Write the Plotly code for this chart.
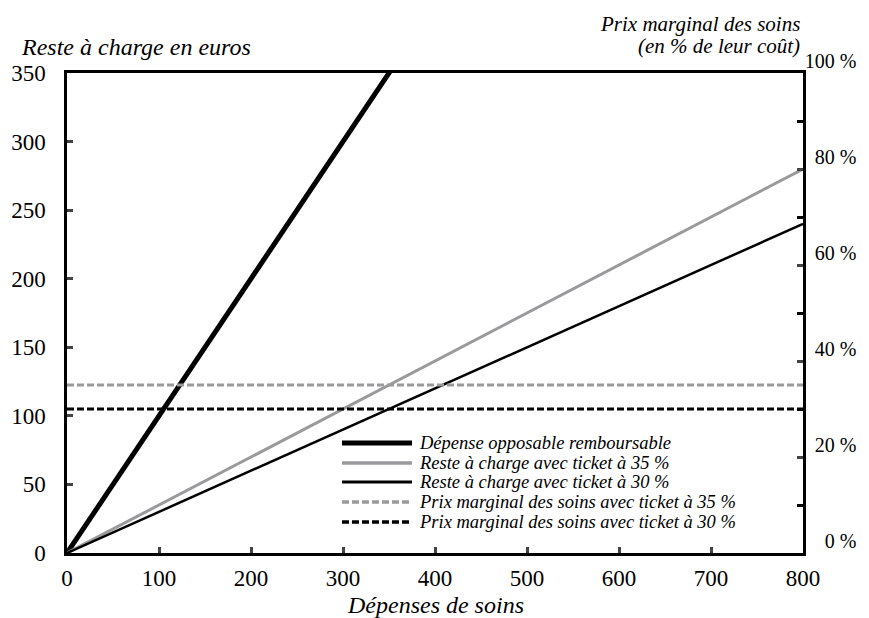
import plotly.graph_objects as go

# Data
depenses = [0, 100, 200, 300, 400, 500, 600, 700, 800]
depense_opposable = [0, 100, 200, 300, 400, 500, 600, 700, 800]
reste_35 = [0, 35, 70, 105, 140, 175, 210, 245, 280]
reste_30 = [0, 30, 60, 90, 120, 150, 180, 210, 240]
prix_35 = [35, 35, 35, 35, 35, 35, 35, 35, 35]
prix_30 = [30, 30, 30, 30, 30, 30, 30, 30, 30]

names = [
    "Dépense opposable remboursable",
    "Reste à charge avec ticket à 35 %",
    "Reste à charge avec ticket à 30 %",
    "Prix marginal des soins avec ticket à 35 %",
    "Prix marginal des soins avec ticket à 30 %",
]
x_ticks = [0, 100, 200, 300, 400, 500, 600, 700, 800]
y_ticks = [0, 50, 100, 150, 200, 250, 300, 350]
y2_ticks = [0, 20, 40, 60, 80, 100]
y2_labels = ["0 %", "20 %", "40 %", "60 %", "80 %", "100 %"]

FONT = "Liberation Serif, Times New Roman, serif"
GRAY = "#9a9a9c"
PAD = "\u2002"  # en space = one digit width in Times-like fonts

# right-align the right-axis labels (as in the reference)
y2_text = [PAD * (5 - len(t)) + t for t in y2_labels]

styles = [
    dict(color="black", width=5),
    dict(color=GRAY, width=3),
    dict(color="black", width=2.5),
    dict(color=GRAY, width=3, dash="7px,3px"),
    dict(color="black", width=3, dash="7px,3px"),
]

fig = go.Figure()
fig.add_trace(go.Scatter(x=depenses, y=prix_35, yaxis="y2", mode="lines", name=names[3],
                         line=styles[3], showlegend=False))
fig.add_trace(go.Scatter(x=depenses, y=prix_30, yaxis="y2", mode="lines", name=names[4],
                         line=styles[4], showlegend=False))
fig.add_trace(go.Scatter(x=depenses, y=depense_opposable, mode="lines", name=names[0],
                         line=styles[0], showlegend=False))
fig.add_trace(go.Scatter(x=depenses, y=reste_35, mode="lines", name=names[1],
                         line=styles[1], showlegend=False))
fig.add_trace(go.Scatter(x=depenses, y=reste_30, mode="lines", name=names[2],
                         line=styles[2], showlegend=False))

fig.update_layout(
    width=861, height=610,
    margin=dict(l=59, r=66, t=65, b=65),
    paper_bgcolor="white", plot_bgcolor="white",
    font=dict(family=FONT, size=23, color="black"),
    showlegend=False,
    xaxis=dict(
        range=[0, 800], tickvals=x_ticks, ticks="inside", ticklen=6, tickwidth=2.5,
        showline=True, linewidth=2.5, linecolor="black", mirror=True,
        showgrid=False, zeroline=False, automargin=False, ticklabelstandoff=3,
    ),
    yaxis=dict(
        range=[0, 350], tickvals=y_ticks, ticks="inside", ticklen=6, tickwidth=2.5,
        showline=True, linewidth=2.5, linecolor="black", mirror=True,
        showgrid=False, zeroline=False, ticklabelstandoff=14, automargin=False,
    ),
    yaxis2=dict(
        overlaying="y", side="right", range=[0, 100],
        tickvals=y2_ticks, ticktext=y2_text, ticks="inside", ticklen=6, tickwidth=2.5,
        tickfont=dict(family=FONT, size=20),
        minor=dict(dtick=10, ticks="inside", ticklen=6, tickwidth=2.5, tickcolor="black"),
        ticklabelshift=-12, ticklabelstandoff=-5, automargin=False,
        showline=True, linewidth=2.5, linecolor="black",
        showgrid=False, zeroline=False,
    ),
)

# Custom legend (lines + italic labels) at the reference position
leg_x0, leg_x1, leg_tx = 0.3736, 0.4688, 0.4755
leg_rows = [0.2292, 0.1875, 0.1479, 0.1063, 0.0646]
for name, st, yy in zip(names, styles, leg_rows):
    dash = "solid"
    if "dash" in st:
        dash = st["dash"]
    fig.add_shape(type="line", xref="paper", yref="paper", x0=leg_x0, x1=leg_x1, y0=yy, y1=yy,
                  line=dict(color=st["color"], width=st["width"] + (0.5 if st["width"] < 5 else 0), dash=dash))
    fig.add_annotation(text=name, xref="paper", yref="paper", x=leg_tx, y=yy,
                       xanchor="left", yanchor="middle", showarrow=False,
                       font=dict(family=FONT, size=18.5, style="italic"))

fig.add_annotation(text="Dépenses de soins", xref="paper", yref="paper",
                   x=0.5, y=-0.108, xanchor="center", yanchor="middle", showarrow=False,
                   font=dict(family=FONT, size=24, style="italic"))
fig.add_annotation(text="Reste à charge en euros", xref="paper", yref="paper",
                   x=-0.0646, y=1.054, xanchor="left", yanchor="middle", showarrow=False,
                   font=dict(family=FONT, size=24, style="italic"))
fig.add_annotation(text="Prix marginal des soins", xref="paper", yref="paper",
                   x=0.998, y=1.102, xanchor="right", yanchor="middle", showarrow=False,
                   font=dict(family=FONT, size=21, style="italic"))
fig.add_annotation(text="(en % de leur coût)", xref="paper", yref="paper",
                   x=0.998, y=1.056, xanchor="right", yanchor="middle", showarrow=False,
                   font=dict(family=FONT, size=21, style="italic"))

fig.write_html("out.html")
